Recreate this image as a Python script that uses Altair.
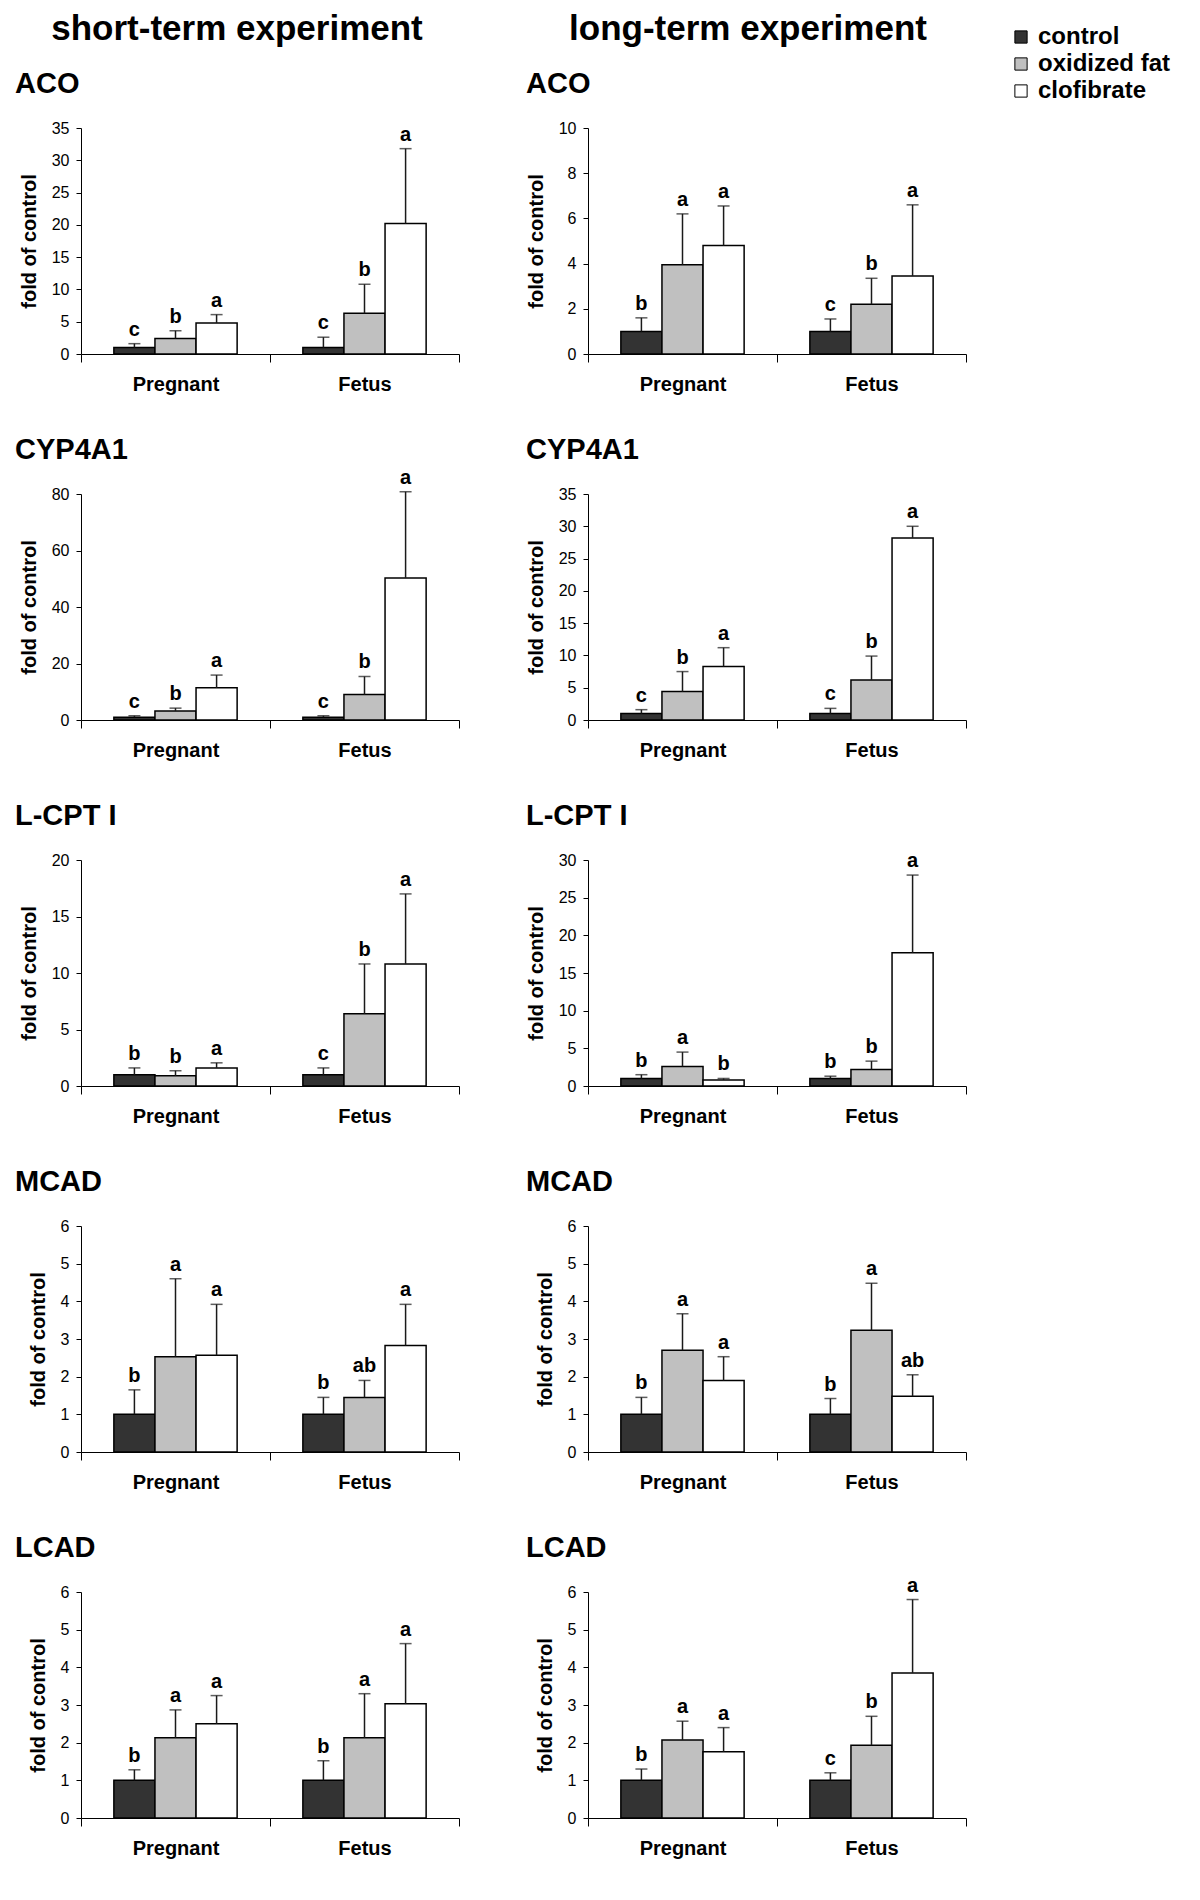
import altair as alt
import pandas as pd

FONT = "Liberation Sans, Arial, Helvetica, sans-serif"

experiments = ["short-term experiment", "long-term experiment"]
tissues = ["Pregnant", "Fetus"]
treatments = ["control", "oxidized fat", "clofibrate"]
treatment_colors = ["#333333", "#c0c0c0", "#ffffff"]
genes = ["ACO", "CYP4A1", "L-CPT I", "MCAD", "LCAD"]

# order in each list: Pregnant (control, oxidized fat, clofibrate), Fetus (control, oxidized fat, clofibrate)
# ---- short-term experiment ----
short_aco_mean = [1.0, 2.4, 4.8, 1.0, 6.3, 20.2]
short_aco_upper = [1.6, 3.6, 6.1, 2.6, 10.8, 31.8]
short_aco_letters = ["c", "b", "a", "c", "b", "a"]

short_cyp_mean = [1.0, 3.2, 11.4, 1.0, 9.0, 50.3]
short_cyp_upper = [1.5, 4.2, 15.9, 1.5, 15.4, 80.8]
short_cyp_letters = ["c", "b", "a", "c", "b", "a"]

short_cpt_mean = [1.0, 0.9, 1.6, 1.0, 6.4, 10.8]
short_cpt_upper = [1.6, 1.35, 2.05, 1.6, 10.8, 17.0]
short_cpt_letters = ["b", "b", "a", "c", "b", "a"]

short_mcad_mean = [1.0, 2.53, 2.57, 1.0, 1.45, 2.83]
short_mcad_upper = [1.65, 4.6, 3.92, 1.45, 1.9, 3.92]
short_mcad_letters = ["b", "a", "a", "b", "ab", "a"]

short_lcad_mean = [1.0, 2.13, 2.5, 1.0, 2.13, 3.03]
short_lcad_upper = [1.28, 2.87, 3.25, 1.52, 3.3, 4.63]
short_lcad_letters = ["b", "a", "a", "b", "a", "a"]

# ---- long-term experiment ----
long_aco_mean = [1.0, 3.95, 4.8, 1.0, 2.2, 3.45]
long_aco_upper = [1.6, 6.2, 6.55, 1.55, 3.35, 6.6]
long_aco_letters = ["b", "a", "a", "c", "b", "a"]

long_cyp_mean = [1.0, 4.4, 8.3, 1.0, 6.2, 28.2]
long_cyp_upper = [1.6, 7.5, 11.2, 1.8, 9.9, 30.0]
long_cyp_letters = ["c", "b", "a", "c", "b", "a"]

long_cpt_mean = [1.0, 2.6, 0.8, 1.0, 2.2, 17.7]
long_cpt_upper = [1.5, 4.5, 1.0, 1.3, 3.3, 28.0]
long_cpt_letters = ["b", "a", "b", "b", "b", "a"]

long_mcad_mean = [1.0, 2.7, 1.9, 1.0, 3.23, 1.48]
long_mcad_upper = [1.45, 3.67, 2.53, 1.42, 4.48, 2.05]
long_mcad_letters = ["b", "a", "a", "b", "a", "ab"]

long_lcad_mean = [1.0, 2.07, 1.76, 1.0, 1.93, 3.85]
long_lcad_upper = [1.3, 2.57, 2.4, 1.2, 2.7, 5.8]
long_lcad_letters = ["b", "a", "a", "c", "b", "a"]

# axis maxima and tick steps
short_ymax = [35, 80, 20, 6, 6]
short_ystep = [5, 20, 5, 1, 1]
long_ymax = [10, 35, 30, 6, 6]
long_ystep = [2, 5, 5, 1, 1]

short_sets = [
    (short_aco_mean, short_aco_upper, short_aco_letters),
    (short_cyp_mean, short_cyp_upper, short_cyp_letters),
    (short_cpt_mean, short_cpt_upper, short_cpt_letters),
    (short_mcad_mean, short_mcad_upper, short_mcad_letters),
    (short_lcad_mean, short_lcad_upper, short_lcad_letters),
]
long_sets = [
    (long_aco_mean, long_aco_upper, long_aco_letters),
    (long_cyp_mean, long_cyp_upper, long_cyp_letters),
    (long_cpt_mean, long_cpt_upper, long_cpt_letters),
    (long_mcad_mean, long_mcad_upper, long_mcad_letters),
    (long_lcad_mean, long_lcad_upper, long_lcad_letters),
]

PW, PH = 378, 226

legend = alt.Legend(
    orient="none", legendX=928, legendY=-103, title=None,
    symbolType="square", symbolSize=150, symbolStrokeColor="black",
    symbolStrokeWidth=1, symbolOpacity=1,
    labelFontSize=24, labelFontWeight="bold", labelFont=FONT, labelColor="black",
    rowPadding=3, labelOffset=5,
)


def panel(gene, means, uppers, letters, ymax, ystep, title_dx, heading=None, heading_x=0):
    rows = []
    for i, (m, u, l) in enumerate(zip(means, uppers, letters)):
        rows.append({"tissue": tissues[i // 3], "treatment": treatments[i % 3],
                     "mean": m, "upper": u, "letter": l})
    df = pd.DataFrame(rows)
    x = alt.X("tissue:N", sort=tissues,
              scale=alt.Scale(paddingInner=0, paddingOuter=0),
              axis=alt.Axis(title=None, tickBand="extent", tickSize=8, labelAngle=0,
                            labelFontSize=20, labelFontWeight="bold", labelFont=FONT,
                            labelColor="black", labelPadding=12, domainColor="black",
                            tickColor="black", grid=False))
    xo = alt.XOffset("treatment:N", sort=treatments,
                     scale=alt.Scale(paddingInner=0, paddingOuter=0.8))
    yscale = alt.Scale(domain=[0, ymax], nice=False, zero=True)
    yaxis = alt.Axis(title="fold of control", values=list(range(0, ymax + 1, ystep)),
                     tickSize=5, labelFontSize=16, labelFont=FONT, labelColor="black",
                     labelPadding=7, titleFontSize=20, titleFontWeight="bold",
                     titleFont=FONT, titleColor="black", titlePadding=12,
                     domainColor="black", tickColor="black", grid=False,
                     labelOverlap=False)
    base = alt.Chart(df)
    bars = base.mark_bar(stroke="black", strokeWidth=1.5).encode(
        x=x, xOffset=xo,
        y=alt.Y("mean:Q", scale=yscale, axis=yaxis),
        fill=alt.Fill("treatment:N", sort=treatments,
                      scale=alt.Scale(domain=treatments, range=treatment_colors),
                      legend=legend),
    )
    err = base.mark_rule(color="#1a1a1a", strokeWidth=1.5).encode(
        x=x, xOffset=xo,
        y=alt.Y("mean:Q", scale=yscale, axis=yaxis),
        y2="upper:Q",
    )
    cap = base.mark_tick(color="#1a1a1a", size=12, thickness=1.5).encode(
        x=x, xOffset=xo,
        y=alt.Y("upper:Q", scale=yscale, axis=yaxis),
    )
    txt = base.mark_text(baseline="alphabetic", dy=-8, fontSize=20, fontWeight="bold",
                         font=FONT, color="black").encode(
        x=x, xOffset=xo,
        y=alt.Y("upper:Q", scale=yscale, axis=yaxis),
        text="letter:N",
    )
    head = alt.Chart(pd.DataFrame({"gene": [gene]})).mark_text(
        align="left", baseline="middle", fontSize=29, fontWeight="bold",
        font=FONT, color="black",
    ).encode(x=alt.value(title_dx), y=alt.value(-44), text="gene:N")
    layers = [bars, err, cap, txt, head]
    if heading is not None:
        layers.append(
            alt.Chart(pd.DataFrame({"experiment": [heading]})).mark_text(
                align="center", baseline="middle", fontSize=35, fontWeight="bold",
                font=FONT, color="black",
            ).encode(x=alt.value(heading_x), y=alt.value(-99), text="experiment:N")
        )
    return alt.layer(*layers).properties(width=PW, height=PH)


cells = []
for k, (g, ss, ls) in enumerate(zip(genes, short_sets, long_sets)):
    cells.append(panel(g, *ss, short_ymax[k], short_ystep[k], -66,
                       experiments[0] if k == 0 else None, 156))
    cells.append(panel(g, *ls, long_ymax[k], long_ystep[k], -62,
                       experiments[1] if k == 0 else None, 160))

chart = alt.concat(
    *cells, columns=2, spacing={"row": 140, "column": 129}, bounds="flush"
).properties(
    padding={"left": 7, "top": 4, "right": 5, "bottom": 5}
).configure(
    font=FONT
).configure_view(stroke=None)

chart.save("out.html", embed_options={"renderer": "svg", "actions": False})
